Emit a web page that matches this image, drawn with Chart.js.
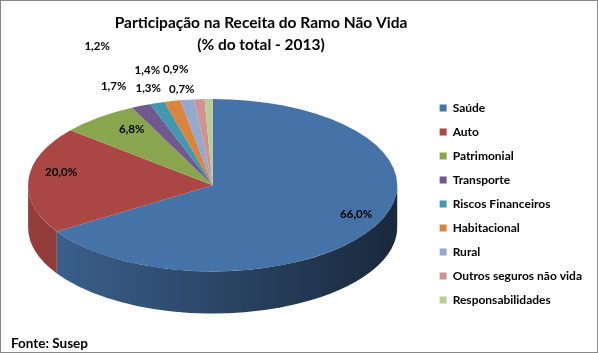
<!DOCTYPE html>
<html>
<head>
<meta charset="utf-8">
<script src="https://cdn.jsdelivr.net/npm/chart.js@4.4.0/dist/chart.umd.min.js"></script>
<style>
  html, body { margin: 0; padding: 0; background: #fff; }
</style>
</head>
<body>
<canvas id="myChart" width="598" height="353"></canvas>
<script>
var ramos = ["Saúde", "Auto", "Patrimonial", "Transporte", "Riscos Financeiros",
             "Habitacional", "Rural", "Outros seguros não vida", "Responsabilidades"];
var participacao = [66.0, 20.0, 6.8, 1.7, 1.3, 1.4, 1.2, 0.9, 0.7];
var cores = ["#4572A7", "#AA4643", "#89A54E", "#71588F", "#4198AF",
             "#DB843D", "#93A9CF", "#D19392", "#B9CD96"];
var titulo = ["Participação na Receita do Ramo Não Vida", "(% do total - 2013)"];
var fonte = "Fonte: Susep";

var FAMILIA = "Lato, 'DejaVu Sans', sans-serif";
Chart.defaults.font.family = FAMILIA;
Chart.defaults.color = "#000";

function escurecer(hex, f) {
  var n = parseInt(hex.slice(1), 16);
  var r = Math.round(((n >> 16) & 255) * f);
  var g = Math.round(((n >> 8) & 255) * f);
  var b = Math.round((n & 255) * f);
  return "rgb(" + r + "," + g + "," + b + ")";
}

// elipse da pizza "3D" a partir da area do grafico
function geometria(chart) {
  var a = chart.chartArea;
  var rx = a.width * 0.443;
  var ry = rx * 0.467;
  var prof = rx * 0.228;
  var cx = a.left + a.width * 0.484;
  var cy = a.top + (a.height - 2 * ry - prof) * 0.55 + ry;
  return { cx: cx, cy: cy, rx: rx, ry: ry, prof: prof };
}

var pizza3d = {
  id: "pizza3d",
  beforeDraw: function (chart, args, opts) {
    var ctx = chart.ctx;
    ctx.save();
    ctx.fillStyle = "#fff";
    ctx.fillRect(0, 0, chart.width, chart.height);
    // titulo (o Excel nao centraliza no grafico todo)
    ctx.fillStyle = "#000";
    ctx.font = "bold 15.5px " + FAMILIA;
    ctx.textAlign = "center";
    ctx.textBaseline = "middle";
    titulo.forEach(function (t, i) {
      ctx.fillText(t, opts.tituloX, opts.tituloY + i * 22);
    });
    ctx.restore();
  },
  beforeDatasetsDraw: function (chart) {
    var ctx = chart.ctx, g = geometria(chart);
    var arcs = chart.getDatasetMeta(0).data;
    // lateral (so a parte da frente aparece)
    arcs.forEach(function (arc, i) {
      var a0 = Math.max(arc.startAngle, 0), a1 = Math.min(arc.endAngle, Math.PI);
      if (a1 <= a0) return;
      var grad = ctx.createLinearGradient(g.cx - g.rx, 0, g.cx + g.rx, 0);
      grad.addColorStop(0, escurecer(cores[i], 0.88));
      grad.addColorStop(1, escurecer(cores[i], 0.36));
      ctx.beginPath();
      ctx.ellipse(g.cx, g.cy, g.rx, g.ry, 0, a0, a1, false);
      ctx.ellipse(g.cx, g.cy + g.prof, g.rx, g.ry, 0, a1, a0, true);
      ctx.closePath();
      ctx.fillStyle = grad;
      ctx.fill();
    });
    // topo: achata a pizza do Chart.js na elipse
    var arc = arcs[0];
    ctx.save();
    ctx.translate(g.cx, g.cy);
    ctx.scale(g.rx / arc.outerRadius, g.ry / arc.outerRadius);
    ctx.translate(-arc.x, -arc.y);
  },
  afterDatasetsDraw: function (chart, args, opts) {
    var ctx = chart.ctx, g = geometria(chart);
    ctx.restore();
    var arcs = chart.getDatasetMeta(0).data;
    ctx.save();
    ctx.font = "bold 11.5px " + FAMILIA;
    ctx.fillStyle = "#000";
    ctx.textAlign = "center";
    ctx.textBaseline = "middle";
    arcs.forEach(function (arc, i) {
      var mid = (arc.startAngle + arc.endAngle) / 2;
      var f = participacao[i] >= 5 ? 0.85 : 1.2;
      var aj = opts.ajuste[i] || [0, 0];
      var x = g.cx + g.rx * f * Math.cos(mid) + aj[0];
      var y = g.cy + g.ry * f * Math.sin(mid) + aj[1];
      ctx.fillText(participacao[i].toFixed(1).replace(".", ",") + "%", x, y);
    });
    ctx.restore();
  },
  afterDraw: function (chart) {
    var ctx = chart.ctx;
    ctx.save();
    ctx.strokeStyle = "#868686";
    ctx.lineWidth = 1;
    ctx.strokeRect(0.5, 0.5, chart.width - 1, chart.height - 1);
    ctx.restore();
  }
};

var myChart = new Chart(document.getElementById("myChart"), {
  type: "pie",
  data: {
    labels: ramos,
    datasets: [{
      data: participacao,
      backgroundColor: cores,
      borderWidth: 0,
      clip: false
    }]
  },
  options: {
    responsive: false,
    devicePixelRatio: 1,
    animation: false,
    layout: { padding: { left: 11, right: 6, top: 74, bottom: 0 } },
    plugins: {
      title: { display: false },
      subtitle: {
        display: true,
        text: fonte,
        position: "bottom",
        align: "start",
        color: "#000",
        font: { size: 13.5, weight: "bold", lineHeight: 1.2 },
        padding: { top: 1.9, bottom: 0.9 }
      },
      legend: {
        position: "right",
        fullSize: false,
        labels: {
          boxWidth: 7,
          boxHeight: 7,
          padding: 12,
          color: "#000",
          font: { size: 12, weight: "bold" }
        }
      },
      tooltip: { enabled: false },
      pizza3d: {
        tituloX: 261,
        tituloY: 23,
        ajuste: [[6, -6], [5, -8], [16, 2], [-13, -4], [2, 2], [-17, -14], [-85, -36], [-21, -13], [-26, 7]]
      }
    }
  },
  plugins: [pizza3d]
});
</script>
</body>
</html>
